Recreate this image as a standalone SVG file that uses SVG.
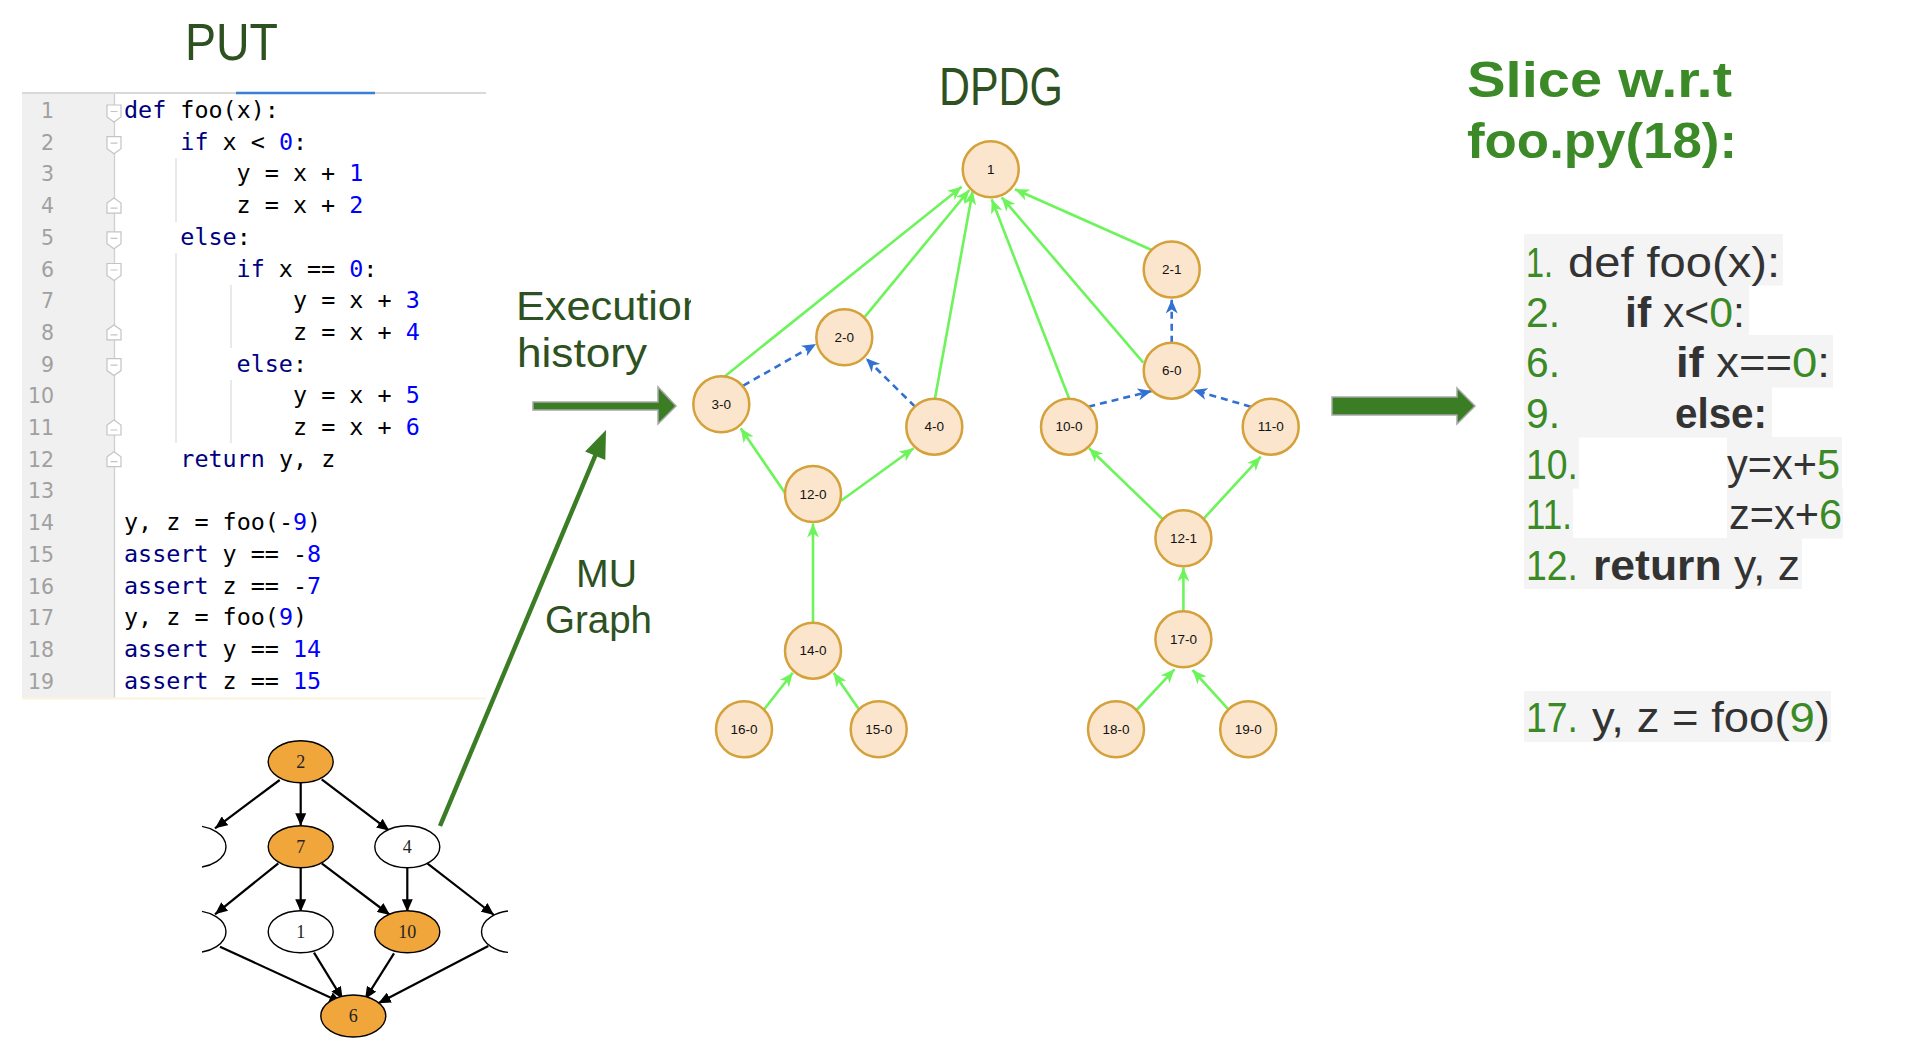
<svg xmlns="http://www.w3.org/2000/svg" width="1908" height="1054" viewBox="0 0 1908 1054">
<style>
.hand{font-family:"Liberation Sans",Arial,sans-serif;}
.ttl{fill:#2e5121;}
.code{font-family:"DejaVu Sans Mono","Liberation Mono",monospace;font-size:23.4px;fill:#000;}
.kw{fill:#000080;}
.num{fill:#0000ff;}
.ln{font-family:"DejaVu Sans",sans-serif;font-size:20.5px;fill:#a0a0a0;text-anchor:end;}
.guide{stroke:#e2e2e2;stroke-width:1.5;}
.fold{fill:#fff;stroke:#c4c4c4;stroke-width:1.2;}
.sl{font-family:"Liberation Sans",Arial,sans-serif;font-size:42px;fill:#333;}
.sn{fill:#3a8a26;}
.g{fill:#3a8a26;}
.bg{fill:#f4f4f4;}
.dn circle{fill:#fbe6cd;stroke:#d4a13a;stroke-width:2.5;}
.dn text{font-family:"Liberation Sans",Arial,sans-serif;font-size:13.5px;fill:#111;text-anchor:middle;}
.ge{stroke:#6cf45a;stroke-width:2.6;fill:none;marker-end:url(#ga);}
.be{stroke:#3270d2;stroke-width:2.6;fill:none;stroke-dasharray:7 5;marker-end:url(#ba);}
.mn ellipse{stroke:#000;stroke-width:1.4;}
.mn .o{fill:#f0a63a;}
.mn .w{fill:#fff;}
.mn text{font-family:"Liberation Serif","Times New Roman",serif;font-size:18px;fill:#222;text-anchor:middle;}
.me{stroke:#000;stroke-width:2.2;fill:none;marker-end:url(#ka);}
.bigarrow{fill:#3b7d24;stroke:#a8a8a8;stroke-width:1.5;}
</style>
<defs>
<marker id="ga" markerUnits="userSpaceOnUse" markerWidth="15" markerHeight="12" refX="14" refY="6" orient="auto"><path d="M0,0 L14,6 L0,12 L4,6 z" fill="#6cf45a"/></marker>
<marker id="ba" markerUnits="userSpaceOnUse" markerWidth="15" markerHeight="12" refX="14" refY="6" orient="auto"><path d="M0,0 L14,6 L0,12 L4,6 z" fill="#3270d2"/></marker>
<marker id="ka" markerUnits="userSpaceOnUse" markerWidth="13" markerHeight="11" refX="12.5" refY="5.5" orient="auto"><path d="M0,0 L12.5,5.5 L0,11 z" fill="#000"/></marker>
<path id="fd" class="fold" d="M-7,-13 H7 V-1 L0,4 L-7,-1 Z M-3.5,-6.5 H3.5"/>
<path id="fu" class="fold" d="M-7,0 H7 V-10 L0,-15 L-7,-10 Z M-3.5,-5 H3.5"/>
<clipPath id="exclip"><rect x="500" y="270" width="191" height="120"/></clipPath>
<clipPath id="muclip"><rect x="202" y="720" width="306" height="334"/></clipPath>
</defs>
<rect width="1908" height="1054" fill="#fff"/>

<!-- Titles -->
<text class="hand ttl" x="185" y="60" font-size="51" textLength="93" lengthAdjust="spacingAndGlyphs">PUT</text>
<text class="hand ttl" x="939" y="105" font-size="53" textLength="124" lengthAdjust="spacingAndGlyphs">DPDG</text>
<g clip-path="url(#exclip)">
<text class="hand ttl" x="516" y="320" font-size="40" textLength="190" lengthAdjust="spacingAndGlyphs">Execution</text>
</g>
<text class="hand ttl" x="517" y="367" font-size="40" textLength="130" lengthAdjust="spacingAndGlyphs">history</text>
<text class="hand ttl" x="576" y="587" font-size="38" textLength="61" lengthAdjust="spacingAndGlyphs">MU</text>
<text class="hand ttl" x="545" y="633" font-size="38" textLength="107" lengthAdjust="spacingAndGlyphs">Graph</text>
<text class="hand" x="1467" y="97" font-size="50" font-weight="bold" fill="#3b8a27" textLength="265" lengthAdjust="spacingAndGlyphs">Slice w.r.t</text>
<text class="hand" x="1467" y="158" font-size="50" font-weight="bold" fill="#3b8a27" textLength="270" lengthAdjust="spacingAndGlyphs">foo.py(18):</text>

<!-- Code editor (PUT) -->
<g id="editor">
<rect x="22" y="94" width="92" height="604" fill="#f0f0f0"/>
<line x1="22" y1="93" x2="486" y2="93" stroke="#d9d9d9" stroke-width="2"/>
<line x1="236" y1="93" x2="375" y2="93" stroke="#3a7fd0" stroke-width="2.5"/>
<line x1="114.5" y1="94" x2="114.5" y2="698" stroke="#d0d0d0" stroke-width="1.3"/>
<line x1="22" y1="698.5" x2="486" y2="698.5" stroke="#fbf3dc" stroke-width="2"/>
<line class="guide" x1="176" y1="158" x2="176" y2="222"/>
<line class="guide" x1="176" y1="253" x2="176" y2="443"/>
<line class="guide" x1="231" y1="285" x2="231" y2="348"/>
<line class="guide" x1="231" y1="380" x2="231" y2="443"/>
<use href="#fd" x="114" y="118"/>
<use href="#fd" x="114" y="149.7"/>
<use href="#fu" x="114" y="213.1"/>
<use href="#fd" x="114" y="244.8"/>
<use href="#fd" x="114" y="276.5"/>
<use href="#fu" x="114" y="339.9"/>
<use href="#fd" x="114" y="371.6"/>
<use href="#fu" x="114" y="435"/>
<use href="#fu" x="114" y="466.7"/>
<text class="ln" x="54" y="118">1</text>
<text class="ln" x="54" y="149.7">2</text>
<text class="ln" x="54" y="181.4">3</text>
<text class="ln" x="54" y="213.1">4</text>
<text class="ln" x="54" y="244.8">5</text>
<text class="ln" x="54" y="276.5">6</text>
<text class="ln" x="54" y="308.2">7</text>
<text class="ln" x="54" y="339.9">8</text>
<text class="ln" x="54" y="371.6">9</text>
<text class="ln" x="54" y="403.3">10</text>
<text class="ln" x="54" y="435">11</text>
<text class="ln" x="54" y="466.7">12</text>
<text class="ln" x="54" y="498.4">13</text>
<text class="ln" x="54" y="530.1">14</text>
<text class="ln" x="54" y="561.8">15</text>
<text class="ln" x="54" y="593.5">16</text>
<text class="ln" x="54" y="625.2">17</text>
<text class="ln" x="54" y="656.9">18</text>
<text class="ln" x="54" y="688.6">19</text>
<text class="code" x="124" y="118"><tspan class="kw">def</tspan> foo(x):</text>
<text class="code" x="180.3" y="149.7"><tspan class="kw">if</tspan> x &lt; <tspan class="num">0</tspan>:</text>
<text class="code" x="236.6" y="181.4">y = x + <tspan class="num">1</tspan></text>
<text class="code" x="236.6" y="213.1">z = x + <tspan class="num">2</tspan></text>
<text class="code" x="180.3" y="244.8"><tspan class="kw">else</tspan>:</text>
<text class="code" x="236.6" y="276.5"><tspan class="kw">if</tspan> x == <tspan class="num">0</tspan>:</text>
<text class="code" x="293" y="308.2">y = x + <tspan class="num">3</tspan></text>
<text class="code" x="293" y="339.9">z = x + <tspan class="num">4</tspan></text>
<text class="code" x="236.6" y="371.6"><tspan class="kw">else</tspan>:</text>
<text class="code" x="293" y="403.3">y = x + <tspan class="num">5</tspan></text>
<text class="code" x="293" y="435">z = x + <tspan class="num">6</tspan></text>
<text class="code" x="180.3" y="466.7"><tspan class="kw">return</tspan> y, z</text>
<text class="code" x="124" y="530.1">y, z = foo(-<tspan class="num">9</tspan>)</text>
<text class="code" x="124" y="561.8"><tspan class="kw">assert</tspan> y == -<tspan class="num">8</tspan></text>
<text class="code" x="124" y="593.5"><tspan class="kw">assert</tspan> z == -<tspan class="num">7</tspan></text>
<text class="code" x="124" y="625.2">y, z = foo(<tspan class="num">9</tspan>)</text>
<text class="code" x="124" y="656.9"><tspan class="kw">assert</tspan> y == <tspan class="num">14</tspan></text>
<text class="code" x="124" y="688.6"><tspan class="kw">assert</tspan> z == <tspan class="num">15</tspan></text>
</g>

<!-- Big arrows -->
<g id="arrows">
<polygon class="bigarrow" points="533,402 658,402 658,387 676,406 658,424 658,410 533,410"/>
<polygon class="bigarrow" points="1332,397 1457,397 1457,388 1475,406 1457,424 1457,415 1332,415"/>
<line x1="440" y1="826" x2="595.5" y2="455" stroke="#3b7d24" stroke-width="4.5"/>
<polygon points="606,430 605.3,460.1 585.1,451.5" fill="#3b7d24"/>
</g>

<!-- MU graph -->
<g id="mu-graph" clip-path="url(#muclip)">
<g id="mu-connectors">
<line class="me" x1="279.7" y1="780" x2="215" y2="828.3"/>
<line class="me" x1="300.7" y1="782.7" x2="300.7" y2="825.7"/>
<line class="me" x1="321.7" y1="779.3" x2="389.3" y2="830.7"/>
<line class="me" x1="278.3" y1="863.3" x2="215" y2="914.3"/>
<line class="me" x1="300.7" y1="867.7" x2="300.7" y2="911.7"/>
<line class="me" x1="321.7" y1="863.3" x2="390" y2="915"/>
<line class="me" x1="407.3" y1="867.7" x2="407.3" y2="911.7"/>
<line class="me" x1="427.3" y1="863.3" x2="494" y2="915"/>
<line class="me" x1="220" y1="946.7" x2="341.7" y2="1002.7"/>
<line class="me" x1="314" y1="952.7" x2="342.7" y2="999.3"/>
<line class="me" x1="394" y1="953.3" x2="365" y2="999.3"/>
<line class="me" x1="488.3" y1="946" x2="378.3" y2="1003.3"/>
</g>
<g id="mu-2" class="mn"><ellipse class="o" cx="300.7" cy="761.7" rx="32.5" ry="21"/><text x="300.7" y="767.7">2</text></g>
<g id="mu-L1" class="mn"><ellipse class="w" cx="193.5" cy="846.7" rx="32.5" ry="21"/></g>
<g id="mu-7" class="mn"><ellipse class="o" cx="300.7" cy="846.7" rx="32.5" ry="21"/><text x="300.7" y="852.7">7</text></g>
<g id="mu-4" class="mn"><ellipse class="w" cx="407.3" cy="846.7" rx="32.5" ry="21"/><text x="407.3" y="852.7">4</text></g>
<g id="mu-L2" class="mn"><ellipse class="w" cx="193.5" cy="931.7" rx="32.5" ry="21"/></g>
<g id="mu-1" class="mn"><ellipse class="w" cx="300.7" cy="931.7" rx="32.5" ry="21"/><text x="300.7" y="937.7">1</text></g>
<g id="mu-10" class="mn"><ellipse class="o" cx="407.3" cy="931.7" rx="32.5" ry="21"/><text x="407.3" y="937.7">10</text></g>
<g id="mu-R" class="mn"><ellipse class="w" cx="514" cy="931.7" rx="32.5" ry="21"/></g>
<g id="mu-6" class="mn"><ellipse class="o" cx="353.3" cy="1016" rx="32.5" ry="21"/><text x="353.3" y="1022">6</text></g>
</g>

<!-- DPDG connectors -->
<g id="connectors">
<line class="ge" x1="724.3" y1="376.7" x2="961.7" y2="186.7"/>
<line class="ge" x1="865" y1="316.7" x2="969.3" y2="190"/>
<line class="ge" x1="935" y1="398.3" x2="972.7" y2="190.7"/>
<line class="ge" x1="1069" y1="398.3" x2="991.7" y2="199.3"/>
<line class="ge" x1="1143.3" y1="362.7" x2="1001.7" y2="197.3"/>
<line class="ge" x1="1151.7" y1="250" x2="1015" y2="189.3"/>
<line class="ge" x1="785" y1="493" x2="740.7" y2="428.3"/>
<line class="ge" x1="841" y1="500.7" x2="913.6" y2="448.3"/>
<line class="ge" x1="813" y1="622.7" x2="813" y2="523.5"/>
<line class="ge" x1="764.2" y1="709.3" x2="792.8" y2="672.7"/>
<line class="ge" x1="858.9" y1="709.3" x2="833.6" y2="672.7"/>
<line class="ge" x1="1162.7" y1="519.3" x2="1089.1" y2="448.3"/>
<line class="ge" x1="1204" y1="518.3" x2="1260.8" y2="456.7"/>
<line class="ge" x1="1183.4" y1="611.3" x2="1183.4" y2="567.5"/>
<line class="ge" x1="1136.6" y1="710" x2="1174.5" y2="669.3"/>
<line class="ge" x1="1228.4" y1="709.3" x2="1192.6" y2="670"/>
<line class="be" x1="743.3" y1="385.7" x2="816" y2="344"/>
<line class="be" x1="915" y1="406.7" x2="866" y2="358.3"/>
<line class="be" x1="1088.3" y1="406.7" x2="1151.7" y2="391"/>
<line class="be" x1="1250.7" y1="406.7" x2="1193.3" y2="390"/>
<line class="be" x1="1171.7" y1="342.7" x2="1171.7" y2="299.5"/>
</g>

<!-- DPDG nodes -->
<g id="n1" class="dn"><circle cx="990.7" cy="169.3" r="28"/><text x="990.7" y="174">1</text></g>
<g id="n2-1" class="dn"><circle cx="1171.7" cy="269.5" r="28"/><text x="1171.7" y="274.2">2-1</text></g>
<g id="n2-0" class="dn"><circle cx="844.3" cy="337.3" r="28"/><text x="844.3" y="342">2-0</text></g>
<g id="n3-0" class="dn"><circle cx="721.3" cy="404.3" r="28"/><text x="721.3" y="409">3-0</text></g>
<g id="n4-0" class="dn"><circle cx="934.3" cy="426.7" r="28"/><text x="934.3" y="431.4">4-0</text></g>
<g id="n6-0" class="dn"><circle cx="1171.7" cy="370.7" r="28"/><text x="1171.7" y="375.4">6-0</text></g>
<g id="n10-0" class="dn"><circle cx="1069" cy="426.7" r="28"/><text x="1069" y="431.4">10-0</text></g>
<g id="n11-0" class="dn"><circle cx="1270.7" cy="426.7" r="28"/><text x="1270.7" y="431.4">11-0</text></g>
<g id="n12-0" class="dn"><circle cx="813" cy="494" r="28"/><text x="813" y="498.7">12-0</text></g>
<g id="n12-1" class="dn"><circle cx="1183.4" cy="538.3" r="28"/><text x="1183.4" y="543">12-1</text></g>
<g id="n14-0" class="dn"><circle cx="813" cy="650.7" r="28"/><text x="813" y="655.4">14-0</text></g>
<g id="n17-0" class="dn"><circle cx="1183.4" cy="639.3" r="28"/><text x="1183.4" y="644">17-0</text></g>
<g id="n16-0" class="dn"><circle cx="744" cy="729.3" r="28"/><text x="744" y="734">16-0</text></g>
<g id="n15-0" class="dn"><circle cx="878.7" cy="729.3" r="28"/><text x="878.7" y="734">15-0</text></g>
<g id="n18-0" class="dn"><circle cx="1116" cy="729.3" r="28"/><text x="1116" y="734">18-0</text></g>
<g id="n19-0" class="dn"><circle cx="1248.2" cy="729.3" r="28"/><text x="1248.2" y="734">19-0</text></g>

<!-- Slice -->
<g id="slice">
<rect class="bg" x="1524" y="234" width="259" height="51.5"/>
<rect class="bg" x="1524" y="285" width="225" height="50.5"/>
<rect class="bg" x="1524" y="335" width="309" height="52.5"/>
<rect class="bg" x="1524" y="387" width="248" height="50.5"/>
<rect class="bg" x="1524" y="437" width="55" height="51.5"/>
<rect class="bg" x="1727" y="437" width="115" height="51.5"/>
<rect class="bg" x="1524" y="488" width="49" height="50.5"/>
<rect class="bg" x="1727" y="488" width="116" height="50.5"/>
<rect class="bg" x="1524" y="538" width="278" height="51"/>
<rect class="bg" x="1524" y="691" width="307" height="51"/>
<text class="sl sn" x="1526" y="277" textLength="27" lengthAdjust="spacingAndGlyphs">1.</text>
<text class="sl" x="1568" y="277" textLength="212" lengthAdjust="spacingAndGlyphs">def foo(x):</text>
<text class="sl sn" x="1526" y="327" textLength="34" lengthAdjust="spacingAndGlyphs">2.</text>
<text class="sl" x="1625" y="327" textLength="120" lengthAdjust="spacingAndGlyphs"><tspan font-weight="bold">if</tspan> x&lt;<tspan class="g">0</tspan>:</text>
<text class="sl sn" x="1526" y="377" textLength="34" lengthAdjust="spacingAndGlyphs">6.</text>
<text class="sl" x="1676" y="377" textLength="154" lengthAdjust="spacingAndGlyphs"><tspan font-weight="bold">if</tspan> x==<tspan class="g">0</tspan>:</text>
<text class="sl sn" x="1526" y="428" textLength="34" lengthAdjust="spacingAndGlyphs">9.</text>
<text class="sl" x="1675" y="428" font-weight="bold" textLength="92" lengthAdjust="spacingAndGlyphs">else:</text>
<text class="sl sn" x="1526" y="479" textLength="52" lengthAdjust="spacingAndGlyphs">10.</text>
<text class="sl" x="1727" y="479" textLength="113" lengthAdjust="spacingAndGlyphs">y=x+<tspan class="g">5</tspan></text>
<text class="sl sn" x="1526" y="529" textLength="46" lengthAdjust="spacingAndGlyphs">11.</text>
<text class="sl" x="1729" y="529" textLength="113" lengthAdjust="spacingAndGlyphs">z=x+<tspan class="g">6</tspan></text>
<text class="sl sn" x="1526" y="580" textLength="52" lengthAdjust="spacingAndGlyphs">12.</text>
<text class="sl" x="1593" y="580" textLength="207" lengthAdjust="spacingAndGlyphs"><tspan font-weight="bold">return</tspan> y, z</text>
<text class="sl sn" x="1526" y="732" textLength="52" lengthAdjust="spacingAndGlyphs">17.</text>
<text class="sl" x="1592" y="732" textLength="238" lengthAdjust="spacingAndGlyphs">y, z = foo(<tspan class="g">9</tspan>)</text>
</g>
</svg>
